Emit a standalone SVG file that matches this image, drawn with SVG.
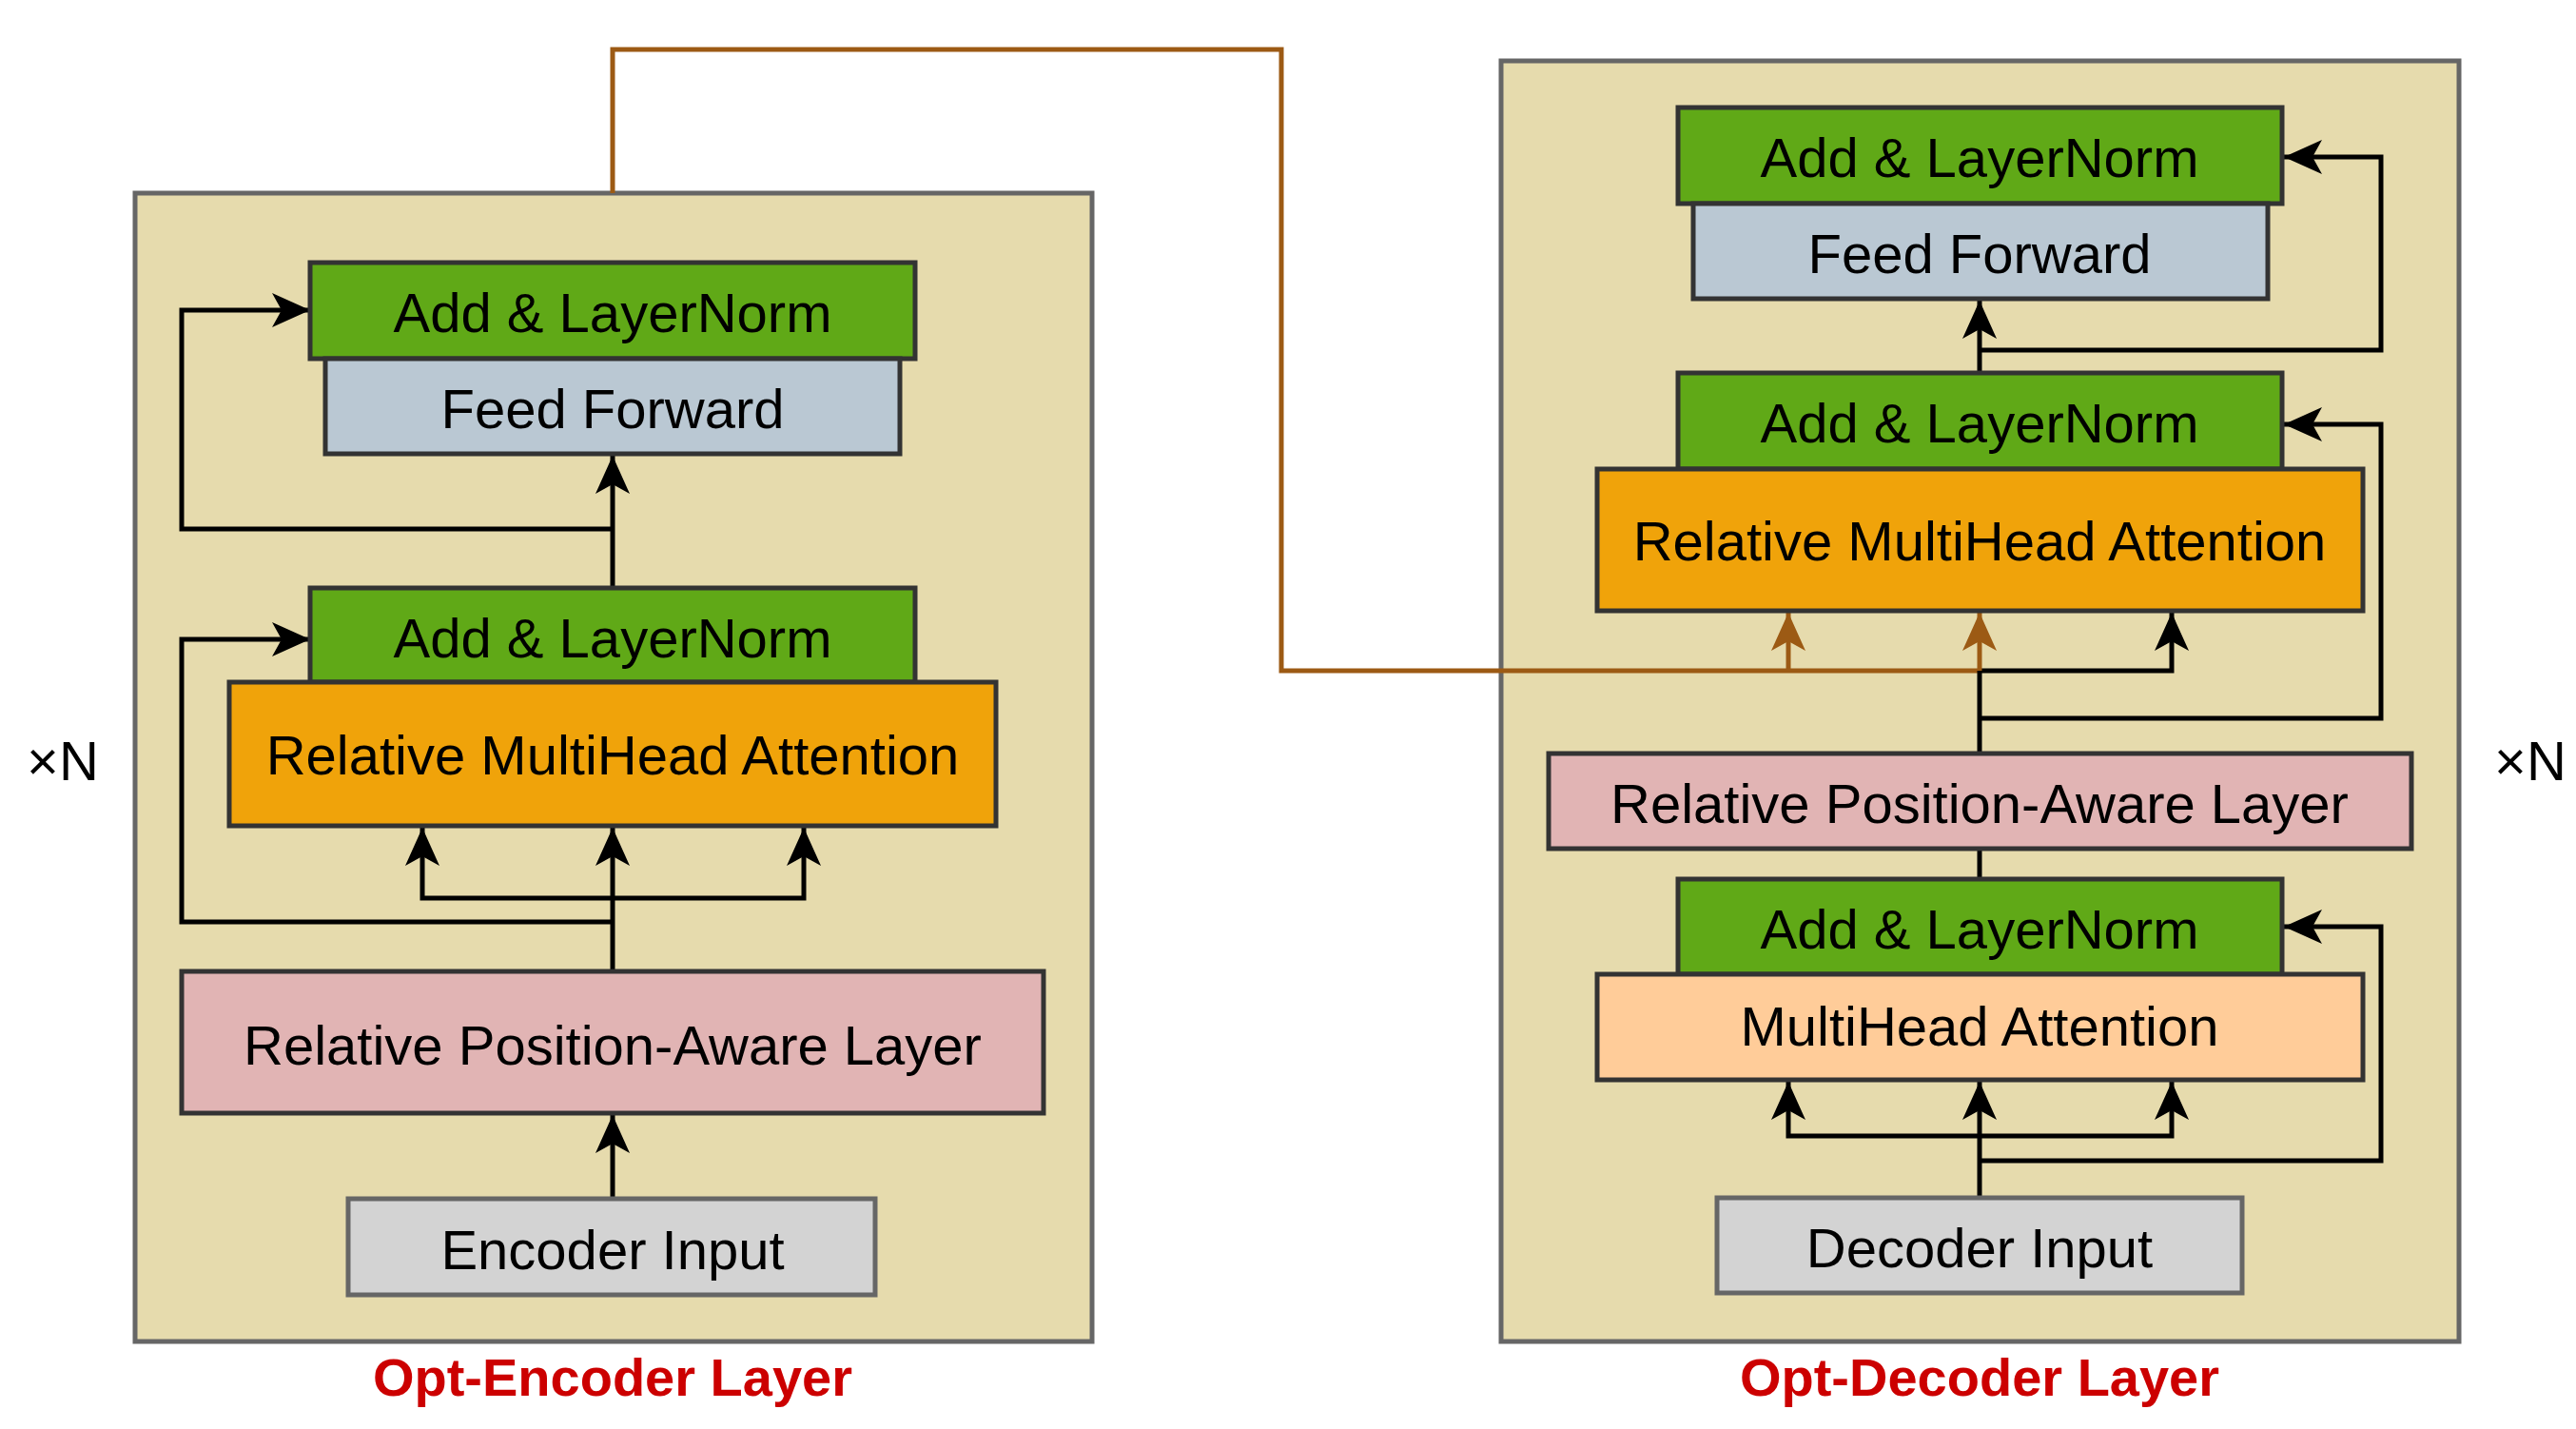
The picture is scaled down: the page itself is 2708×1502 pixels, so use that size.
<svg xmlns="http://www.w3.org/2000/svg" width="2708" height="1502" viewBox="0 0 2708 1502">
<style>
.c{fill:#e6dbad;stroke:#666;stroke-width:5}
.b{stroke:#333;stroke-width:5}
.t{font-family:"Liberation Sans",Arial,sans-serif;font-size:58px;text-anchor:middle;dominant-baseline:central;fill:#000}
.k{fill:none;stroke:#000;stroke-width:5}
.r{fill:none;stroke:#9c5a14;stroke-width:5}
.ti{font-family:"Liberation Sans",Arial,sans-serif;font-size:56px;font-weight:bold;text-anchor:middle;fill:#cc0000}
</style>
<defs>
<marker id="a" markerUnits="userSpaceOnUse" markerWidth="44" markerHeight="40" refX="40" refY="20" orient="auto"><path d="M0,2 L40,20 L0,38 L10,20 Z" fill="#000"/></marker>
<marker id="ab" markerUnits="userSpaceOnUse" markerWidth="44" markerHeight="40" refX="40" refY="20" orient="auto"><path d="M0,2 L40,20 L0,38 L10,20 Z" fill="#9c5a14"/></marker>
</defs>
<g id="encoder">
<rect class="c" x="142" y="203" width="1006" height="1207"/>
</g>
<g id="decoder">
<rect class="c" x="1578" y="64" width="1007" height="1346"/>
</g>
<g id="connectors">
<path class="k" d="M644,1260 V1172" marker-end="url(#a)"/>
<path class="k" d="M644,1021 V870" marker-end="url(#a)"/>
<path class="k" d="M644,944 H444 V870" marker-end="url(#a)"/>
<path class="k" d="M644,944 H845 V870" marker-end="url(#a)"/>
<path class="k" d="M644,969 H191 V672 H326" marker-end="url(#a)"/>
<path class="k" d="M644,618 V479" marker-end="url(#a)"/>
<path class="k" d="M644,556 H191 V326 H326" marker-end="url(#a)"/>
<path class="r" d="M644,203 V52 H1347 V705 H2081"/>
<path class="k" d="M2081,1259 V1137" marker-end="url(#a)"/>
<path class="k" d="M2081,1194 H1880 V1137" marker-end="url(#a)"/>
<path class="k" d="M2081,1194 H2283 V1137" marker-end="url(#a)"/>
<path class="k" d="M2081,1220 H2503 V974 H2401" marker-end="url(#a)"/>
<path class="k" d="M2081,924 V892"/>
<path class="k" d="M2081,792 V705"/>
<path class="k" d="M2081,705 H2283 V644" marker-end="url(#a)"/>
<path class="k" d="M2081,755 H2503 V446 H2401" marker-end="url(#a)"/>
<path class="k" d="M2081,392 V316" marker-end="url(#a)"/>
<path class="k" d="M2081,368 H2503 V165 H2401" marker-end="url(#a)"/>
<path class="r" d="M1880,705 V644" marker-end="url(#ab)"/>
<path class="r" d="M2081,705 V644" marker-end="url(#ab)"/>
</g>
<g id="enc-addln1"><rect class="b" x="326" y="276" width="636" height="101" fill="#60a917"/><text class="t" x="644" y="328">Add &amp; LayerNorm</text></g>
<g id="enc-ff"><rect class="b" x="342" y="377" width="604" height="100" fill="#bac8d3"/><text class="t" x="644" y="429">Feed Forward</text></g>
<g id="enc-addln2"><rect class="b" x="326" y="618" width="636" height="99" fill="#60a917"/><text class="t" x="644" y="670">Add &amp; LayerNorm</text></g>
<g id="enc-rmha"><rect class="b" x="241" y="717" width="806" height="151" fill="#f0a30a"/><text class="t" x="644" y="793">Relative MultiHead Attention</text></g>
<g id="enc-rpal"><rect class="b" x="191" y="1021" width="906" height="149" fill="#e1b4b4"/><text class="t" x="644" y="1098">Relative Position-Aware Layer</text></g>
<g id="enc-input"><rect x="366" y="1260" width="554" height="101" fill="#d3d3d3" stroke="#666" stroke-width="5"/><text class="t" x="644" y="1313">Encoder Input</text></g>
<g id="dec-addln1"><rect class="b" x="1764" y="113" width="635" height="101" fill="#60a917"/><text class="t" x="2081" y="165">Add &amp; LayerNorm</text></g>
<g id="dec-ff"><rect class="b" x="1780" y="214" width="604" height="100" fill="#bac8d3"/><text class="t" x="2081" y="266">Feed Forward</text></g>
<g id="dec-addln2"><rect class="b" x="1764" y="392" width="635" height="101" fill="#60a917"/><text class="t" x="2081" y="444">Add &amp; LayerNorm</text></g>
<g id="dec-rmha"><rect class="b" x="1679" y="493" width="805" height="149" fill="#f0a30a"/><text class="t" x="2081" y="568">Relative MultiHead Attention</text></g>
<g id="dec-rpal"><rect class="b" x="1628" y="792" width="907" height="100" fill="#e1b4b4"/><text class="t" x="2081" y="844">Relative Position-Aware Layer</text></g>
<g id="dec-addln3"><rect class="b" x="1764" y="924" width="635" height="100" fill="#60a917"/><text class="t" x="2081" y="976">Add &amp; LayerNorm</text></g>
<g id="dec-mha"><rect class="b" x="1679" y="1024" width="805" height="111" fill="#ffcc99"/><text class="t" x="2081" y="1078">MultiHead Attention</text></g>
<g id="dec-input"><rect x="1805" y="1259" width="552" height="100" fill="#d3d3d3" stroke="#666" stroke-width="5"/><text class="t" x="2081" y="1311">Decoder Input</text></g>
<text class="t" x="66" y="799">×N</text>
<text class="t" x="2660" y="799">×N</text>
<text class="ti" x="644" y="1467">Opt-Encoder Layer</text>
<text class="ti" x="2081" y="1467">Opt-Decoder Layer</text>
</svg>
